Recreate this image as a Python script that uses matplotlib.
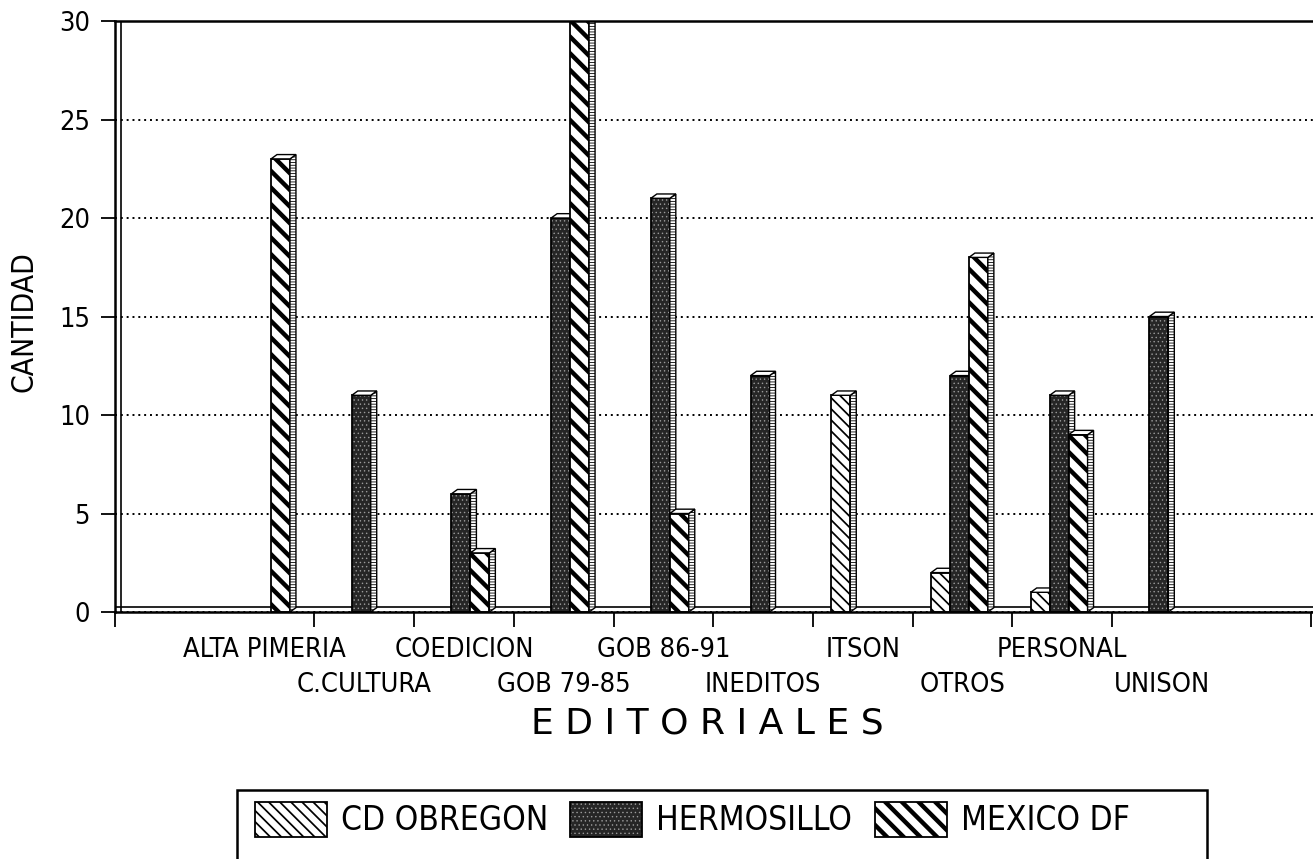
#!/usr/bin/env python3

"""
Barras agrupadas (estilo 3D) de publicaciones por editorial y lugar.
"""

import matplotlib
matplotlib.use("Agg")
import matplotlib.pyplot as plt
import numpy as np
from matplotlib.patches import Polygon, Rectangle

categories = ["ALTA PIMERIA", "C.CULTURA", "COEDICION", "GOB 79-85", "GOB 86-91",
              "INEDITOS", "ITSON", "OTROS", "PERSONAL", "UNISON"]
series_names = ["CD OBREGON", "HERMOSILLO", "MEXICO DF"]
cd_obregon = [0, 0, 0, 0, 0, 0, 11, 2, 1, 0]
hermosillo = [0, 11, 6, 20, 21, 12, 0, 12, 11, 15]
mexico_df = [23, 0, 3, 30, 5, 0, 0, 18, 9, 0]
y_ticks = [0, 5, 10, 15, 20, 25, 30]
x_label = "E D I T O R I A L E S"
y_label = "CANTIDAD"

W, H = 1313, 859
plt.rcParams["font.family"] = ["DejaVu Sans"]
plt.rcParams["font.stretch"] = "condensed"
plt.rcParams["hatch.linewidth"] = 0.9

# face colour, hatch, hatch colour, hatch line width
STYLES = [
    ("white", "\\\\\\", "black", 1.25),
    ("#262626", "....", "#9a9a9a", 0.5),
    ("white", "\\\\", "black", 3.2),
]
OFFSETS = [-0.22, -0.03, 0.16]
BAR_W = 0.19
DX, DY = 0.06, 0.22


def px(x, y):
    return x / W, 1 - y / H


def set_hatch_lw(patch, lw):
    if hasattr(patch, "set_hatch_linewidth"):
        patch.set_hatch_linewidth(lw)


def draw_bars(ax, x, values, style):
    face, hatch, hcolor, hlw = style
    vals = np.asarray(values, dtype=float)
    keep = vals > 0
    xs, hs = x[keep], vals[keep]
    fill = ax.bar(xs, hs, BAR_W, color=face, edgecolor=hcolor, hatch=hatch,
                  linewidth=0, align="edge")
    for p in fill:
        set_hatch_lw(p, hlw)
    ax.bar(xs, hs, BAR_W, fill=False, edgecolor="black", linewidth=1.3,
           align="edge")
    for x0, h in zip(xs, hs):
        x1 = x0 + BAR_W
        side = Polygon([(x1, 0), (x1 + DX, DY), (x1 + DX, h + DY), (x1, h)],
                       closed=True, facecolor="white", edgecolor="black",
                       hatch="------", linewidth=1.0)
        set_hatch_lw(side, 0.6)
        top = Polygon([(x0, h), (x0 + DX, h + DY), (x1 + DX, h + DY), (x1, h)],
                      closed=True, facecolor="white", edgecolor="black",
                      linewidth=1.0)
        ax.add_patch(side)
        ax.add_patch(top)


def main() -> None:
    fig = plt.figure(figsize=(W / 100, H / 100), dpi=100)
    left, right, top, bottom = 115, 1313, 21, 612
    ax = fig.add_axes([left / W, 1 - bottom / H, (right - left) / W,
                       (bottom - top) / H])
    unit = 99.7
    ax.set_xlim(0, (right - left) / unit)
    ax.set_ylim(0, 30)

    centers = np.arange(len(categories)) + 1.5
    for values, style, off in zip([cd_obregon, hermosillo, mexico_df], STYLES,
                                  OFFSETS):
        draw_bars(ax, centers + off - BAR_W / 2, values, style)

    # axes, ticks and grid
    ax.set_axisbelow(True)
    ax.yaxis.grid(True, color="black", linestyle=(0, (1, 2.0)), linewidth=1.4)
    ax.set_yticks(y_ticks)
    ax.tick_params(axis="y", direction="out", length=10, width=1.3, pad=8,
                   labelsize=19.5)
    bounds = [0] + list(range(2, len(categories) + 1)) + [len(categories) + 2]
    ax.set_xticks(bounds, labels=[""] * len(bounds))
    ax.tick_params(axis="x", which="major", direction="out", length=11,
                   width=1.3)

    # category names in two staggered rows
    row_y = [(bottom - 657) / (bottom - top), (bottom - 692) / (bottom - top)]
    for i, (c, name) in enumerate(zip(centers, categories)):
        ax.text(c, row_y[i % 2], name, transform=ax.get_xaxis_transform(),
                ha="center", va="baseline", fontsize=19.5)

    for side in ["left", "bottom", "top"]:
        ax.spines[side].set_linewidth(1.8)
    ax.spines["right"].set_visible(False)
    ax.axvline(0.06, color="black", linewidth=1.2, zorder=0.6)
    ax.axhline(0.25, color="black", linewidth=1.2, zorder=0.6)

    ax.set_ylabel(y_label, fontsize=21.5, va="center")
    ax.yaxis.set_label_coords((24 - left) / (right - left),
                              (bottom - 322) / (bottom - top))
    ax.set_xlabel(x_label, fontsize=26, va="center", fontstretch="normal")
    ax.xaxis.set_label_coords((707 - left) / (right - left),
                              (bottom - 723) / (bottom - top))

    # legend box (cut by the lower edge of the page)
    fig.add_artist(Rectangle(px(237, 990), 970 / W, 200 / H,
                             transform=fig.transFigure, facecolor="none",
                             edgecolor="black", linewidth=1.8))
    swatch_x = [255, 570, 875]
    for name, style, sx in zip(series_names, STYLES, swatch_x):
        face, hatch, hcolor, hlw = style
        sw = Rectangle(px(sx, 837), 72 / W, 35 / H, transform=fig.transFigure,
                       facecolor=face, edgecolor=hcolor, hatch=hatch,
                       linewidth=0)
        set_hatch_lw(sw, hlw)
        fig.add_artist(sw)
        fig.add_artist(Rectangle(px(sx, 837), 72 / W, 35 / H,
                                 transform=fig.transFigure, fill=False,
                                 edgecolor="black", linewidth=1.3))
        fig.text(*px(sx + 86, 820), name, fontsize=24, va="center",
                 ha="left")

    fig.savefig("out.png", dpi=100)


if __name__ == "__main__":
    main()
